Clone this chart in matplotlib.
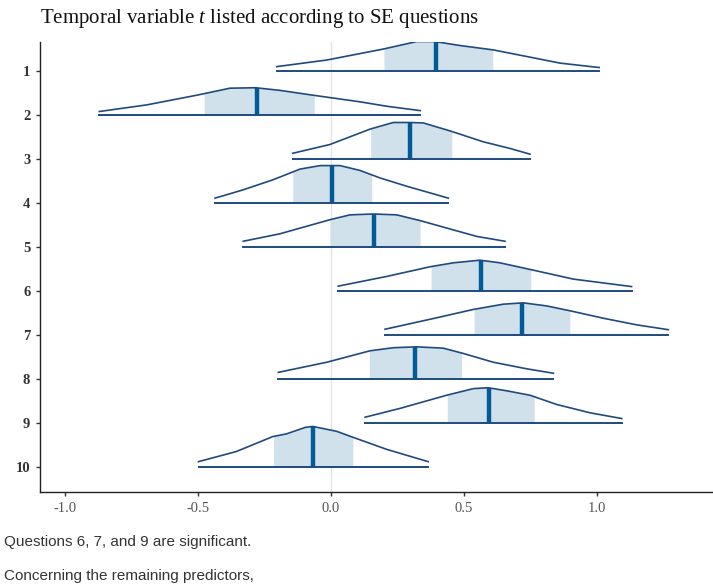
import numpy as np
import matplotlib
matplotlib.use("Agg")
import matplotlib.pyplot as plt

plt.rcParams["mathtext.fontset"] = "custom"
plt.rcParams["mathtext.it"] = "Liberation Serif:italic"
plt.rcParams["mathtext.rm"] = "Liberation Serif"

# density outline points (x, height in row units)
questions = ["1", "2", "3", "4", "5", "6", "7", "8", "9", "10"]

curve_x = [
    [-0.204, -0.016, 0.197, 0.322, 0.391, 0.485, 0.610, 0.736, 0.861, 1.008],
    [-0.871, -0.693, -0.505, -0.380, -0.283, -0.192, -0.067, 0.109, 0.209, 0.335],
    [-0.144, -0.004, 0.147, 0.234, 0.297, 0.347, 0.447, 0.573, 0.673, 0.748],
    [-0.436, -0.330, -0.217, -0.117, -0.041, 0.034, 0.109, 0.184, 0.285, 0.372, 0.441],
    [-0.330, -0.192, -0.004, 0.071, 0.159, 0.247, 0.335, 0.435, 0.548, 0.654],
    [0.027, 0.209, 0.372, 0.460, 0.560, 0.635, 0.748, 0.911, 1.130],
    [0.203, 0.397, 0.535, 0.648, 0.723, 0.811, 0.898, 1.024, 1.149, 1.268],
    [-0.198, -0.016, 0.147, 0.234, 0.322, 0.422, 0.497, 0.610, 0.736, 0.836],
    [0.128, 0.259, 0.435, 0.535, 0.591, 0.661, 0.748, 0.848, 0.974, 1.093],
    [-0.498, -0.356, -0.219, -0.168, -0.096, -0.068, 0.021, 0.089, 0.209, 0.365],
]
curve_h = [
    [0.10, 0.25, 0.50, 0.67, 0.67, 0.58, 0.48, 0.33, 0.18, 0.08],
    [0.08, 0.23, 0.45, 0.61, 0.62, 0.56, 0.45, 0.30, 0.20, 0.10],
    [0.13, 0.33, 0.68, 0.83, 0.83, 0.82, 0.64, 0.39, 0.24, 0.11],
    [0.11, 0.30, 0.53, 0.77, 0.85, 0.85, 0.74, 0.57, 0.38, 0.23, 0.11],
    [0.13, 0.30, 0.62, 0.73, 0.75, 0.73, 0.60, 0.43, 0.24, 0.13],
    [0.11, 0.33, 0.55, 0.64, 0.70, 0.64, 0.49, 0.27, 0.10],
    [0.13, 0.39, 0.58, 0.70, 0.73, 0.66, 0.55, 0.38, 0.23, 0.12],
    [0.15, 0.38, 0.64, 0.71, 0.73, 0.70, 0.58, 0.38, 0.23, 0.13],
    [0.13, 0.33, 0.63, 0.78, 0.80, 0.73, 0.63, 0.42, 0.23, 0.10],
    [0.12, 0.35, 0.69, 0.75, 0.90, 0.92, 0.81, 0.66, 0.40, 0.12],
]
medians = [0.395, -0.279, 0.298, 0.003, 0.162, 0.565, 0.719, 0.316, 0.595, -0.068]
ci_lo = [0.199, -0.477, 0.149, -0.144, -0.004, 0.376, 0.538, 0.144, 0.437, -0.216]
ci_hi = [0.608, -0.063, 0.454, 0.153, 0.335, 0.751, 0.898, 0.491, 0.764, 0.082]

dark = "#1f4a7e"
light = "#d1e1ec"
mid_hl = "#005b96"

fig = plt.figure(figsize=(7.13, 5.88), dpi=100)
ax = fig.add_axes([40 / 713, 1 - 492 / 588, 1 - 40 / 713, 450 / 588])

ax.axvline(0, color="#e3e3e3", lw=1, zorder=0)

for i, q in enumerate(questions):
    y = i + 1
    x = np.array(curve_x[i])
    h = np.array(curve_h[i])
    inside = (x > ci_lo[i]) & (x < ci_hi[i])
    xs = np.concatenate([[ci_lo[i]], x[inside], [ci_hi[i]]])
    hs = np.interp(xs, x, h)
    ax.fill_between(xs, y, y - hs, color=light, lw=0, zorder=1)
    m = medians[i]
    ax.plot([m, m], [y, y - np.interp(m, x, h)], color=mid_hl, lw=3.2,
            solid_capstyle="butt", zorder=2)
    ax.plot(x, y - h, color=dark, lw=1.2, solid_joinstyle="round", zorder=3)
    ax.plot([x[0], x[-1]], [y, y], color=dark, lw=1.4, zorder=3)

ax.set_xlim(-1.094, 1.436)
ax.set_ylim(10.57, 0.34)
ax.set_xticks([-1.0, -0.5, 0.0, 0.5, 1.0])
ax.set_xticklabels(["-1.0", "-0.5", "0.0", "0.5", "1.0"],
                   family="Liberation Serif", fontsize=10.5, color="#555555")
ax.set_yticks(range(1, 11))
ax.set_yticklabels(questions, family="Liberation Serif", fontsize=10.5,
                   fontweight="bold", color="#333333")
ax.tick_params(axis="both", length=3, width=1, color="#333333", pad=4)
for s in ["top", "right"]:
    ax.spines[s].set_visible(False)
for s in ["left", "bottom"]:
    ax.spines[s].set_linewidth(1)
    ax.spines[s].set_color("#222222")

fig.text(40 / 713, 1 - 18 / 588, r"Temporal variable $t$ listed according to SE questions",
         family="Liberation Serif", fontsize=15, va="center", ha="left", color="#111111")

fig.text(4 / 713, 1 - 542 / 588, "Questions 6, 7, and 9 are significant.",
         family="Liberation Sans", fontsize=11, va="center", ha="left", color="#333333")
fig.text(4 / 713, 1 - 576 / 588, "Concerning the remaining predictors,",
         family="Liberation Sans", fontsize=11, va="center", ha="left", color="#333333")

fig.savefig("out.png", dpi=100)
